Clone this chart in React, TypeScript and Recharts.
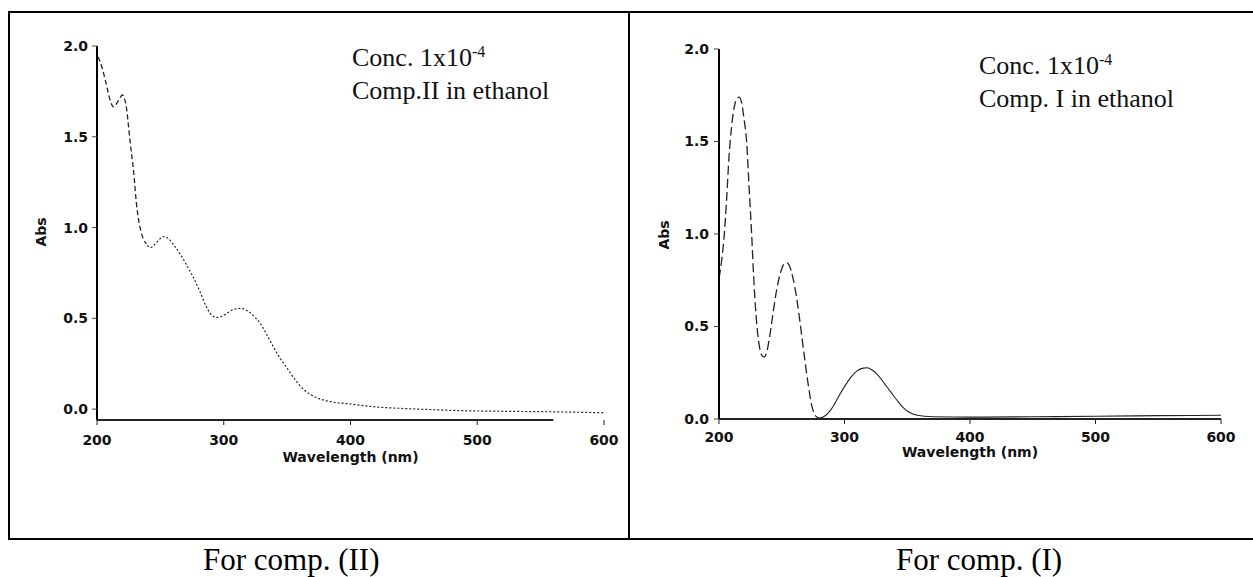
import React from 'react';
import { LineChart, Line, XAxis, YAxis, ReferenceLine } from 'recharts';

// Comp. II spectrum (left panel)
const comp2Wavelength = [201, 204, 207, 210, 213, 217, 220, 223, 226, 229, 231, 235, 238, 242, 246, 250, 253, 257, 261, 266, 271, 276, 281, 286, 290, 294, 298, 303, 308, 314, 319, 324, 329, 334, 339, 344, 350, 356, 362, 368, 375, 385, 400, 420, 440, 465, 490, 520, 560, 585, 600];
const comp2Abs = [1.94, 1.88, 1.8, 1.71, 1.665, 1.7, 1.73, 1.67, 1.48, 1.3, 1.14, 0.97, 0.92, 0.89, 0.91, 0.94, 0.95, 0.935, 0.9, 0.85, 0.79, 0.725, 0.65, 0.568, 0.522, 0.505, 0.51, 0.53, 0.55, 0.555, 0.54, 0.51, 0.47, 0.41, 0.345, 0.285, 0.225, 0.165, 0.115, 0.082, 0.058, 0.04, 0.028, 0.012, 0.004, -0.003, -0.009, -0.012, -0.015, -0.018, -0.02];
const comp2Split = 238;

// Comp. I spectrum (right panel)
const comp1Wavelength = [200, 202, 204, 206, 208, 210, 212, 214, 216, 218, 220, 222, 224, 226, 228, 230, 232, 234, 236, 238, 240, 243, 246, 249, 252, 254, 256, 259, 262, 265, 268, 271, 274, 277, 280, 284, 288, 292, 296, 300, 305, 310, 315, 318, 322, 327, 332, 337, 342, 347, 352, 358, 370, 400, 450, 500, 550, 600];
const comp1Abs = [0.76, 0.85, 0.98, 1.18, 1.42, 1.58, 1.68, 1.73, 1.74, 1.71, 1.62, 1.5, 1.25, 1.0, 0.72, 0.52, 0.4, 0.345, 0.335, 0.36, 0.43, 0.57, 0.7, 0.79, 0.84, 0.845, 0.83, 0.76, 0.65, 0.5, 0.34, 0.19, 0.07, 0.015, 0.005, 0.015, 0.04, 0.08, 0.13, 0.175, 0.225, 0.26, 0.275, 0.277, 0.265, 0.235, 0.19, 0.145, 0.1, 0.06, 0.035, 0.02, 0.012, 0.01, 0.012, 0.015, 0.018, 0.02];
const comp1Split = 277;

const xTicks = [200, 300, 400, 500, 600];
const yTicks = [0, 0.5, 1.0, 1.5, 2.0];

const buildRows = (wl: number[], abs: number[], split: number) =>
  wl.map((w, i) => ({
    wl: w,
    dash: w <= split ? abs[i] : null,
    fine: w >= split ? abs[i] : null,
  }));

const comp2Rows = buildRows(comp2Wavelength, comp2Abs, comp2Split);
const comp1Rows = buildRows(comp1Wavelength, comp1Abs, comp1Split);

const tickFont = { fill: '#111', fontSize: 14, fontWeight: 700, fontFamily: 'DejaVu Sans' };

const serif = '"Liberation Serif", "Times New Roman", serif';

const AbsLabel = ({ x, y }: { x: number; y: number }) => (
  <div
    style={{
      position: 'absolute', left: x - 30, top: y - 9, width: 60, height: 18, textAlign: 'center',
      transform: 'rotate(-90deg)', fontFamily: 'DejaVu Sans', fontWeight: 700, fontSize: 14, lineHeight: '18px', color: '#111',
    }}
  >
    Abs
  </div>
);

const Note = ({ x, y, comp }: { x: number; y: number; comp: string }) => (
  <div style={{ position: 'absolute', left: x, top: y, fontFamily: serif, fontSize: 26, lineHeight: '30px', color: '#111', whiteSpace: 'nowrap' }}>
    <div>
      Conc. 1x10<span style={{ fontSize: 16, position: 'relative', top: -9 }}>-4</span>
    </div>
    <div>{comp} in ethanol</div>
  </div>
);

export default function App() {
  return (
    <div style={{ position: 'absolute', left: 0, top: 0, width: 1253, height: 577, overflow: 'hidden', background: '#fff' }}>
      {/* frame */}
      <div style={{ position: 'absolute', left: 8, top: 11, width: 1252, height: 529, border: '2px solid #000', boxSizing: 'border-box' }} />
      <div style={{ position: 'absolute', left: 628, top: 11, width: 2, height: 529, background: '#000' }} />

      {/* left: Comp. II */}
      <div style={{ position: 'absolute', left: 0, top: 0 }}>
        <LineChart width={640} height={480} data={comp2Rows} margin={{ top: 46, right: 36, left: 37, bottom: 30 }}>
          <XAxis
            type="number" dataKey="wl" domain={[200, 600]} ticks={xTicks}
            axisLine={false} tickLine={{ stroke: '#222' }} tickSize={5} tickMargin={10} height={30}
            tick={tickFont}
            label={{ value: 'Wavelength (nm)', position: 'bottom', offset: 2, style: tickFont }}
          />
          <YAxis
            type="number" domain={[-0.06, 2]} ticks={yTicks} allowDataOverflow
            tickFormatter={(v: number) => v.toFixed(1)} width={60}
            axisLine={{ stroke: '#000', strokeWidth: 2 }} tickLine={{ stroke: '#444' }} tickSize={5} tickMargin={4}
            tick={tickFont}
          />
          <ReferenceLine segment={[{ x: 200, y: -0.06 }, { x: 560, y: -0.06 }]} stroke="#222" strokeWidth={2} ifOverflow="visible" />
          <Line type="monotone" dataKey="dash" stroke="#222" strokeWidth={1.3} strokeDasharray="5 3" dot={false} isAnimationActive={false} connectNulls={false} />
          <Line type="monotone" dataKey="fine" stroke="#222" strokeWidth={1.2} strokeDasharray="2 2" dot={false} isAnimationActive={false} connectNulls={false} />
        </LineChart>
      </div>
      <AbsLabel x={41} y={232} />
      <Note x={352} y={43} comp="Comp.II" />

      {/* right: Comp. I */}
      <div style={{ position: 'absolute', left: 630, top: 0 }}>
        <LineChart width={623} height={480} data={comp1Rows} margin={{ top: 49, right: 32, left: 29, bottom: 31 }}>
          <XAxis
            type="number" dataKey="wl" domain={[200, 600]} ticks={xTicks}
            axisLine={{ stroke: '#222', strokeWidth: 2 }} tickLine={{ stroke: '#222' }} tickSize={5} tickMargin={8} height={30}
            tick={tickFont}
            label={{ value: 'Wavelength (nm)', position: 'bottom', offset: -2, style: tickFont }}
          />
          <YAxis
            type="number" domain={[0, 2]} ticks={yTicks}
            tickFormatter={(v: number) => v.toFixed(1)} width={60}
            axisLine={{ stroke: '#000', strokeWidth: 2 }} tickLine={{ stroke: '#444' }} tickSize={5} tickMargin={5}
            tick={tickFont}
          />
          <Line type="monotone" dataKey="dash" stroke="#222" strokeWidth={1.3} strokeDasharray="9 4" dot={false} isAnimationActive={false} connectNulls={false} />
          <Line type="monotone" dataKey="fine" stroke="#222" strokeWidth={1.1} dot={false} isAnimationActive={false} connectNulls={false} />
        </LineChart>
      </div>
      <AbsLabel x={664} y={235} />
      <Note x={979} y={51} comp="Comp. I" />

      {/* captions */}
      <div style={{ position: 'absolute', left: 203, top: 544, fontFamily: serif, fontSize: 31, lineHeight: '31px', color: '#000', whiteSpace: 'nowrap' }}>
        For comp. (II)
      </div>
      <div style={{ position: 'absolute', left: 896, top: 544, fontFamily: serif, fontSize: 31, lineHeight: '31px', color: '#000', whiteSpace: 'nowrap' }}>
        For comp. (I)
      </div>
    </div>
  );
}
